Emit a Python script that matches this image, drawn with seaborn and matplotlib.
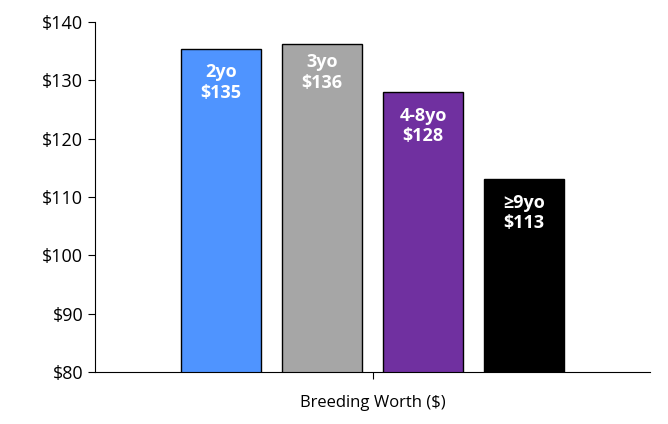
import matplotlib
matplotlib.use("Agg")
import matplotlib.pyplot as plt
import seaborn as sns
import pandas as pd

categories = ["2yo", "3yo", "4-8yo", "≥9yo"]
values = [135.4, 136.2, 128.0, 113.1]
labels = ["$135", "$136", "$128", "$113"]
colors = ["#4f94ff", "#a6a6a6", "#7030a0", "#000000"]
yticks = [80, 90, 100, 110, 120, 130, 140]

plt.rcParams["font.family"] = "Open Sans"
fig = plt.figure(figsize=(6.68, 4.24), dpi=100)
ax = fig.add_axes([95/668, 1-372/424, 555/668, 350/424])
df = pd.DataFrame({"cat": categories, "val": values})
sns.barplot(data=df, x="cat", y="val", hue="cat", palette=colors, legend=False,
            width=0.79, edgecolor="black", linewidth=1, saturation=1, ax=ax)
ax.set_xlim(-1.25, 4.25)
ax.set_ylim(80, 140)
ax.set_yticks(yticks)
ax.set_yticklabels([f"${t}" for t in yticks], fontsize=13)
ax.set_xticks([1.5])
ax.set_xticklabels([""])
ax.tick_params(axis="x", length=5, direction="out")
ax.tick_params(axis="y", length=5, direction="out")
for s in ["top", "right"]:
    ax.spines[s].set_visible(False)
ax.set_xlabel("Breeding Worth ($)", fontsize=12, labelpad=8)
ax.set_ylabel("")
offsets = [2.5, 1.5, 2.5, 2.5]
for i, (c, v, l) in enumerate(zip(categories, values, labels)):
    ax.text(i, v - offsets[i], f"{c}\n{l}", ha="center", va="top", color="white",
            fontsize=13, fontweight="bold", linespacing=1.2)
fig.savefig("out.png", dpi=100)
